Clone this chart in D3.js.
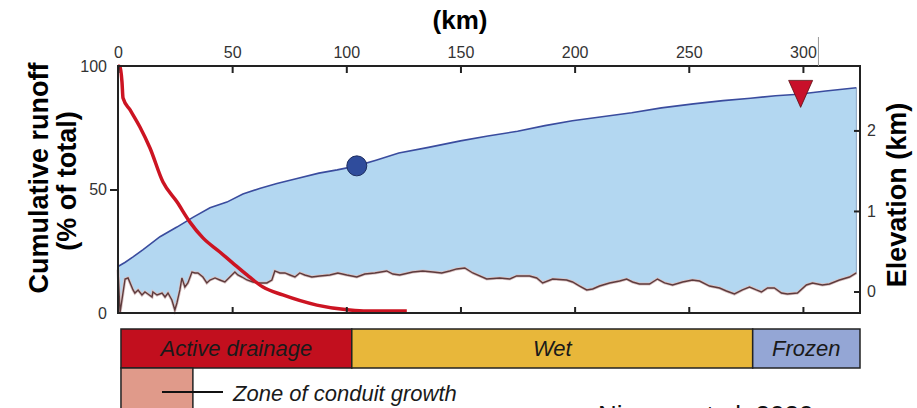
<!DOCTYPE html>
<html>
<head>
<meta charset="utf-8">
<script src="https://cdn.jsdelivr.net/npm/d3@7"></script>
<style>
  body { margin: 0; background: #fff; }
  svg { display: block; font-family: "Liberation Sans", Arial, sans-serif; }
</style>
</head>
<body>
<div id="chart"></div>
<script>
// distance along the flowline (km) vs ice surface elevation (km)
const surfaceKm = [0, 3, 6.6, 11, 18.4, 25.8, 32.8, 40.3, 47.7, 54.7, 62, 69.6, 78, 88, 96, 104.6, 113, 123, 136, 150, 162, 175, 187, 199, 212, 225, 238, 252, 265, 277, 288, 298, 310, 323.4];
const surfaceElev = [0.31, 0.36, 0.43, 0.52, 0.68, 0.80, 0.92, 1.04, 1.11, 1.21, 1.28, 1.34, 1.40, 1.47, 1.51, 1.56, 1.63, 1.72, 1.79, 1.87, 1.93, 1.99, 2.06, 2.12, 2.17, 2.22, 2.28, 2.33, 2.37, 2.40, 2.43, 2.45, 2.49, 2.53];

// bed elevation (km)
const bedKm = [0, 0.9, 3.1, 4.4, 6.6, 7.4, 8.8, 10.5, 11.8, 13.1, 14.9, 15.3, 17.1, 19.3, 20.6, 21.9, 23.6, 24.9, 25.8, 27.1, 28.0, 29.3, 30.6, 32.4, 33.7, 35.0, 37.2, 38.9, 40.3, 42.5, 44.6, 46.8, 49.0, 51.2, 52.5, 54.3, 56.5, 59.1, 62.1, 65.2, 67.4, 68.7, 70.9, 73.1, 75.3, 77.5, 79.6, 81.8, 84.9, 88.4, 92.8, 96.3, 100.2, 104.6, 108.1, 112.5, 117.7, 120.4, 123.4, 129.1, 133.5, 137.9, 141.8, 145.3, 148.4, 151.9, 155.4, 161.5, 167.2, 171.6, 174.6, 180.3, 183.4, 186.0, 190.4, 196.5, 199.1, 202.2, 205.3, 207.9, 210.9, 215.3, 219.7, 222.8, 225.4, 228.4, 232.8, 236.3, 239.4, 242.9, 247.3, 251.6, 254.7, 259.1, 263.5, 266.5, 270.0, 273.5, 276.6, 279.6, 281.8, 284.5, 287.5, 290.6, 293.2, 297.6, 301.5, 304.2, 308.5, 311.6, 316.0, 320.4, 323.4];
const bedElev = [0.27, -0.26, 0.155, 0.168, 0.019, -0.019, 0.019, -0.043, -0.006, -0.031, -0.068, -0.006, -0.043, -0.019, -0.068, -0.019, -0.106, -0.23, -0.143, 0.019, 0.168, 0.056, 0.106, 0.242, 0.23, 0.23, 0.18, 0.106, 0.143, 0.168, 0.143, 0.118, 0.18, 0.242, 0.205, 0.18, 0.143, 0.118, 0.106, 0.106, 0.143, 0.255, 0.23, 0.23, 0.205, 0.18, 0.23, 0.205, 0.18, 0.193, 0.205, 0.23, 0.205, 0.18, 0.217, 0.23, 0.255, 0.217, 0.205, 0.242, 0.255, 0.242, 0.23, 0.255, 0.28, 0.292, 0.23, 0.155, 0.168, 0.155, 0.193, 0.193, 0.168, 0.106, 0.155, 0.143, 0.118, 0.068, 0.019, 0.031, 0.068, 0.106, 0.13, 0.155, 0.118, 0.093, 0.093, 0.155, 0.106, 0.081, 0.118, 0.143, 0.13, 0.068, 0.043, 0.006, -0.031, 0.019, 0.056, 0.019, -0.006, 0.043, 0.043, -0.019, -0.031, -0.019, 0.081, 0.106, 0.081, 0.093, 0.143, 0.18, 0.23];

// cumulative runoff (% of total)
const runoffKm = [0, 0.9, 1.75, 2.2, 5.3, 9.6, 14.0, 19.7, 25.8, 31.5, 37.2, 44.6, 50.3, 56.5, 63.5, 72.2, 87.1, 101.5, 109, 126.5];
const runoffPct = [100, 99.6, 93.5, 87, 82.2, 75.3, 66.8, 53, 45, 36.8, 30.4, 24.7, 20.2, 15.4, 10.5, 7.3, 3.2, 1.2, 0.8, 0.8];

const kmTicks = [0, 50, 100, 150, 200, 250, 300];
const pctTicks = [0, 50, 100];
const elevTicks = [0, 1, 2];

const zoneNames = ["Active drainage", "Wet", "Frozen"];
const zoneStart = [1.3, 102.4, 278];
const zoneEnd = [102.4, 278, 325];
const zoneColors = ["#c20f1e", "#e8b73a", "#94a6d5"];
const conduitStart = 1.3, conduitEnd = 32.8;

const circleKm = 104.6, circleElev = 1.56;
const triangleKm = 299, triangleElev = 2.46;

const width = 917, height = 408;
const plotLeft = 118, plotRight = 860, plotTop = 66, plotBottom = 313;

const x = d3.scaleLinear().domain([0, 325]).range([plotLeft, plotRight]);
const yPct = d3.scaleLinear().domain([0, 100]).range([plotBottom, plotTop]);
const yElev = d3.scaleLinear().domain([-0.267, 2.8]).range([plotBottom, plotTop]);

const svg = d3.select('#chart').append('svg')
    .attr('width', width)
    .attr('height', height);

// ice body between surface and bed
const surf = surfaceKm.map((k, i) => [k, surfaceElev[i]]);
const bed = bedKm.map((k, i) => [k, bedElev[i]]);
const line = d3.line().x(d => x(d[0])).y(d => yElev(d[1]));

svg.append('path')
    .attr('d', line(surf.concat(bed.slice().reverse())) + 'Z')
    .attr('fill', '#b3d7f1')
    .attr('stroke', 'none');

svg.append('line')
    .attr('x1', x(323.4)).attr('x2', x(323.4))
    .attr('y1', yElev(2.53)).attr('y2', yElev(0.23))
    .attr('stroke', '#8aa3c0').attr('stroke-width', 1);

// bed line with a faint halo
svg.append('path').attr('d', line(bed))
    .attr('fill', 'none').attr('stroke', '#d9c2c2').attr('stroke-width', 3);
svg.append('path').attr('d', line(bed))
    .attr('fill', 'none').attr('stroke', '#5e3b3d').attr('stroke-width', 1.4);

// surface
svg.append('path').attr('d', line(surf))
    .attr('fill', 'none').attr('stroke', '#3a4c9e').attr('stroke-width', 1.6);

// runoff curve
const runLine = d3.line().x((d, i) => x(runoffKm[i])).y(d => yPct(d)).curve(d3.curveMonotoneX);
svg.append('path').attr('d', runLine(runoffPct))
    .attr('fill', 'none').attr('stroke', '#cc1422').attr('stroke-width', 3.5)
    .attr('stroke-linecap', 'butt');

// markers
svg.append('circle')
    .attr('cx', x(circleKm)).attr('cy', yElev(circleElev)).attr('r', 10)
    .attr('fill', '#2f4c9c').attr('stroke', '#1d2d60').attr('stroke-width', 1);

svg.append('path')
    .attr('transform', `translate(${x(triangleKm)},${yElev(triangleElev)})`)
    .attr('d', 'M-12,-13L12,-13L0,14Z')
    .attr('fill', '#c8102a').attr('stroke', '#5a1015').attr('stroke-width', 0.8);

// frame
svg.append('rect')
    .attr('x', plotLeft).attr('y', plotTop)
    .attr('width', plotRight - plotLeft).attr('height', plotBottom - plotTop)
    .attr('fill', 'none').attr('stroke', '#222').attr('stroke-width', 2);

// odd thin mark above the 300 label
svg.append('line')
    .attr('x1', x(306.8)).attr('x2', x(306.8))
    .attr('y1', 37).attr('y2', plotTop)
    .attr('stroke', '#999').attr('stroke-width', 1);

// axes
const topAxis = svg.append('g')
    .attr('transform', `translate(0,${plotTop})`)
    .call(d3.axisTop(x).tickValues(kmTicks).tickSize(-7).tickPadding(8));
const bottomAxis = svg.append('g')
    .attr('transform', `translate(0,${plotBottom})`)
    .call(d3.axisBottom(x).tickValues(kmTicks.slice(1)).tickSize(-6).tickFormat(''));
const leftAxis = svg.append('g')
    .attr('transform', `translate(${plotLeft},0)`)
    .call(d3.axisLeft(yPct).tickValues(pctTicks).tickSize(8).tickPadding(3));
const rightAxis = svg.append('g')
    .attr('transform', `translate(${plotRight},0)`)
    .call(d3.axisRight(yElev).tickValues(elevTicks).tickSize(-6).tickPadding(7).tickFormat(d3.format('d')));

[topAxis, bottomAxis, leftAxis, rightAxis].forEach(a => {
    a.select('.domain').remove();
    a.selectAll('line').attr('stroke', '#222').attr('stroke-width', 2);
    a.selectAll('text')
        .attr('fill', '#333')
        .style('font-size', '16px')
        .style('font-family', '"Liberation Sans", Arial, sans-serif');
});
leftAxis.selectAll('.tick').filter(d => d !== 50).select('line').remove();

// axis titles
svg.append('text')
    .attr('x', 460).attr('y', 29)
    .attr('text-anchor', 'middle')
    .style('font-size', '26px').style('font-weight', 'bold')
    .text('(km)');

svg.append('text')
    .attr('transform', 'translate(48,178) rotate(-90)')
    .attr('text-anchor', 'middle')
    .style('font-size', '27px').style('font-weight', 'bold')
    .text('Cumulative runoff');
svg.append('text')
    .attr('transform', 'translate(76,181) rotate(-90)')
    .attr('text-anchor', 'middle')
    .style('font-size', '27px').style('font-weight', 'bold')
    .text('(% of total)');

svg.append('text')
    .attr('transform', 'translate(906,195) rotate(-90)')
    .attr('text-anchor', 'middle')
    .style('font-size', '27px').style('font-weight', 'bold')
    .text('Elevation (km)');

// thermal zones bar
const zones = svg.append('g');
zoneNames.forEach((name, i) => {
    zones.append('rect')
        .attr('x', x(zoneStart[i])).attr('y', 329)
        .attr('width', x(zoneEnd[i]) - x(zoneStart[i])).attr('height', 39)
        .attr('fill', zoneColors[i])
        .attr('stroke', '#222').attr('stroke-width', 1.5);
    zones.append('text')
        .attr('x', (x(zoneStart[i]) + x(zoneEnd[i])) / 2).attr('y', 356)
        .attr('text-anchor', 'middle')
        .style('font-size', '22px').style('font-style', 'italic')
        .attr('fill', '#1a1a1a')
        .text(name);
});

svg.append('rect')
    .attr('x', x(conduitStart)).attr('y', 368)
    .attr('width', x(conduitEnd) - x(conduitStart)).attr('height', 45)
    .attr('fill', '#e09a8a')
    .attr('stroke', '#222').attr('stroke-width', 1.5);
svg.append('line')
    .attr('x1', 162).attr('x2', 223).attr('y1', 392).attr('y2', 392)
    .attr('stroke', '#111').attr('stroke-width', 2);
svg.append('text')
    .attr('x', 233).attr('y', 401)
    .style('font-size', '22px').style('font-style', 'italic')
    .attr('fill', '#1a1a1a')
    .text('Zone of conduit growth');

svg.append('text')
    .attr('x', 598).attr('y', 424)
    .style('font-size', '26px')
    .attr('fill', '#111')
    .text('Nienow et al. 2020');
</script>
</body>
</html>
